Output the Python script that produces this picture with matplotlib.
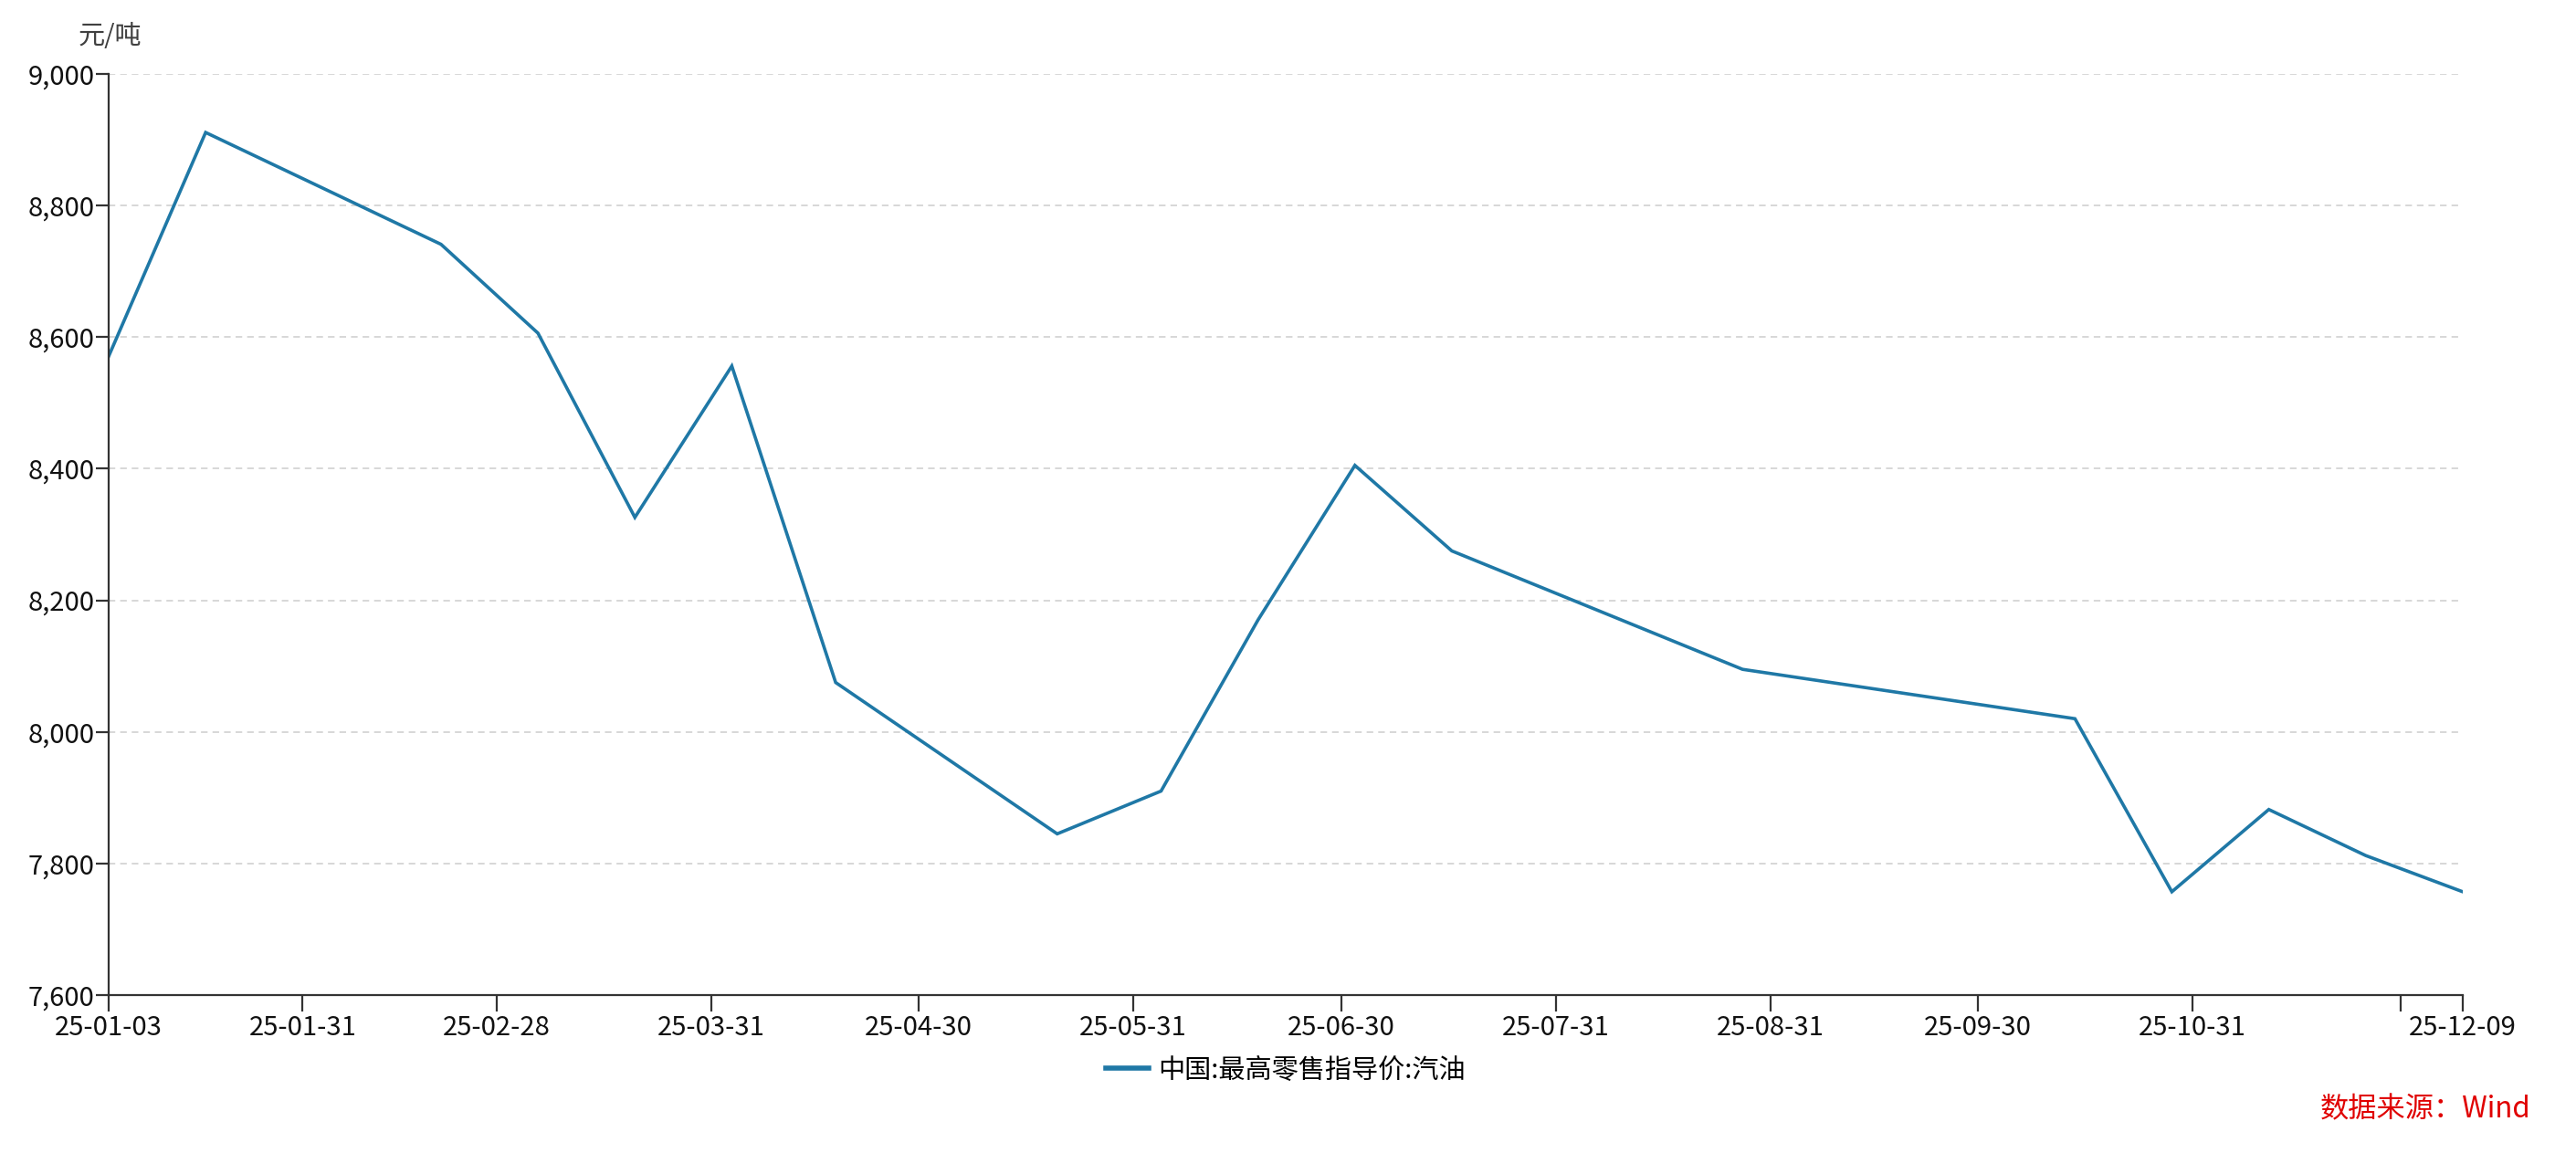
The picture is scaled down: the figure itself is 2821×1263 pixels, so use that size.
import matplotlib
matplotlib.use("Agg")
import matplotlib.pyplot as plt
import pandas as pd

plt.rcParams["font.family"] = ["Noto Sans CJK SC", "DejaVu Sans"]

# 汽油最高零售指导价（元/吨），按调价生效日期
dates = ["2025-01-03", "2025-01-17", "2025-02-20", "2025-03-06", "2025-03-20",
         "2025-04-03", "2025-04-18", "2025-05-20", "2025-06-04", "2025-06-18",
         "2025-07-02", "2025-07-16", "2025-08-27", "2025-10-14", "2025-10-28",
         "2025-11-11", "2025-11-25", "2025-12-09"]
prices = [8571, 8911, 8741, 8606, 8326,
          8556, 8075, 7845, 7910, 8170,
          8405, 8275, 8095, 8020, 7757,
          7882, 7812, 7757]

tick_dates = ["2025-01-03", "2025-01-31", "2025-02-28", "2025-03-31", "2025-04-30",
              "2025-05-31", "2025-06-30", "2025-07-31", "2025-08-31", "2025-09-30",
              "2025-10-31", "2025-11-30", "2025-12-09"]
tick_labels = ["25-01-03", "25-01-31", "25-02-28", "25-03-31", "25-04-30",
               "25-05-31", "25-06-30", "25-07-31", "25-08-31", "25-09-30",
               "25-10-31", "", "25-12-09"]
y_ticks = [7600, 7800, 8000, 8200, 8400, 8600, 8800, 9000]

series_name = "中国:最高零售指导价:汽油"
line_color = "#1f78a6"
axis_color = "#333333"

x = pd.to_datetime(dates)
xt = pd.to_datetime(tick_dates)

fig = plt.figure(figsize=(28.21, 12.63), dpi=100)
ax = fig.add_axes([0.0422, 0.137, 0.9138, 0.7989])

ax.plot(x, prices, color=line_color, lw=2.6, label=series_name, solid_joinstyle="miter")

ax.set_xlim(xt[0], xt[-1])
ax.set_ylim(7600, 9000)
ax.set_yticks(y_ticks)
ax.set_yticklabels([f"{v:,}" for v in y_ticks])
ax.set_xticks(xt)
ax.set_xticklabels(tick_labels)

for v in y_ticks[1:]:
    ax.axhline(v, color="#d4d4d4", lw=1.3, ls=(0, (4, 3)), zorder=0)

for s in ["top", "right"]:
    ax.spines[s].set_visible(False)
for s in ["left", "bottom"]:
    ax.spines[s].set_color(axis_color)
    ax.spines[s].set_linewidth(1.6)

ax.tick_params(axis="y", length=10, width=1.6, color=axis_color, pad=1,
               labelsize=21, labelcolor="#111111")
ax.tick_params(axis="x", length=13, width=1.6, color=axis_color, pad=2,
               labelsize=21, labelcolor="#111111")

ax.text(0.0305, 0.968, "元/吨", transform=fig.transFigure, fontsize=21,
        color="#404040", ha="left", va="center")

ax.legend(loc="center", bbox_to_anchor=(0.5, -0.082), frameon=False,
          fontsize=21, handlelength=1.6, handletextpad=0.35)
leg = ax.get_legend()
for h in leg.get_lines():
    h.set_linewidth(4)

fig.text(0.9825, 0.025, "数据来源：Wind", color="#e00000", fontsize=22.5,
         ha="right", va="bottom")

fig.savefig("out.png", dpi=100)
